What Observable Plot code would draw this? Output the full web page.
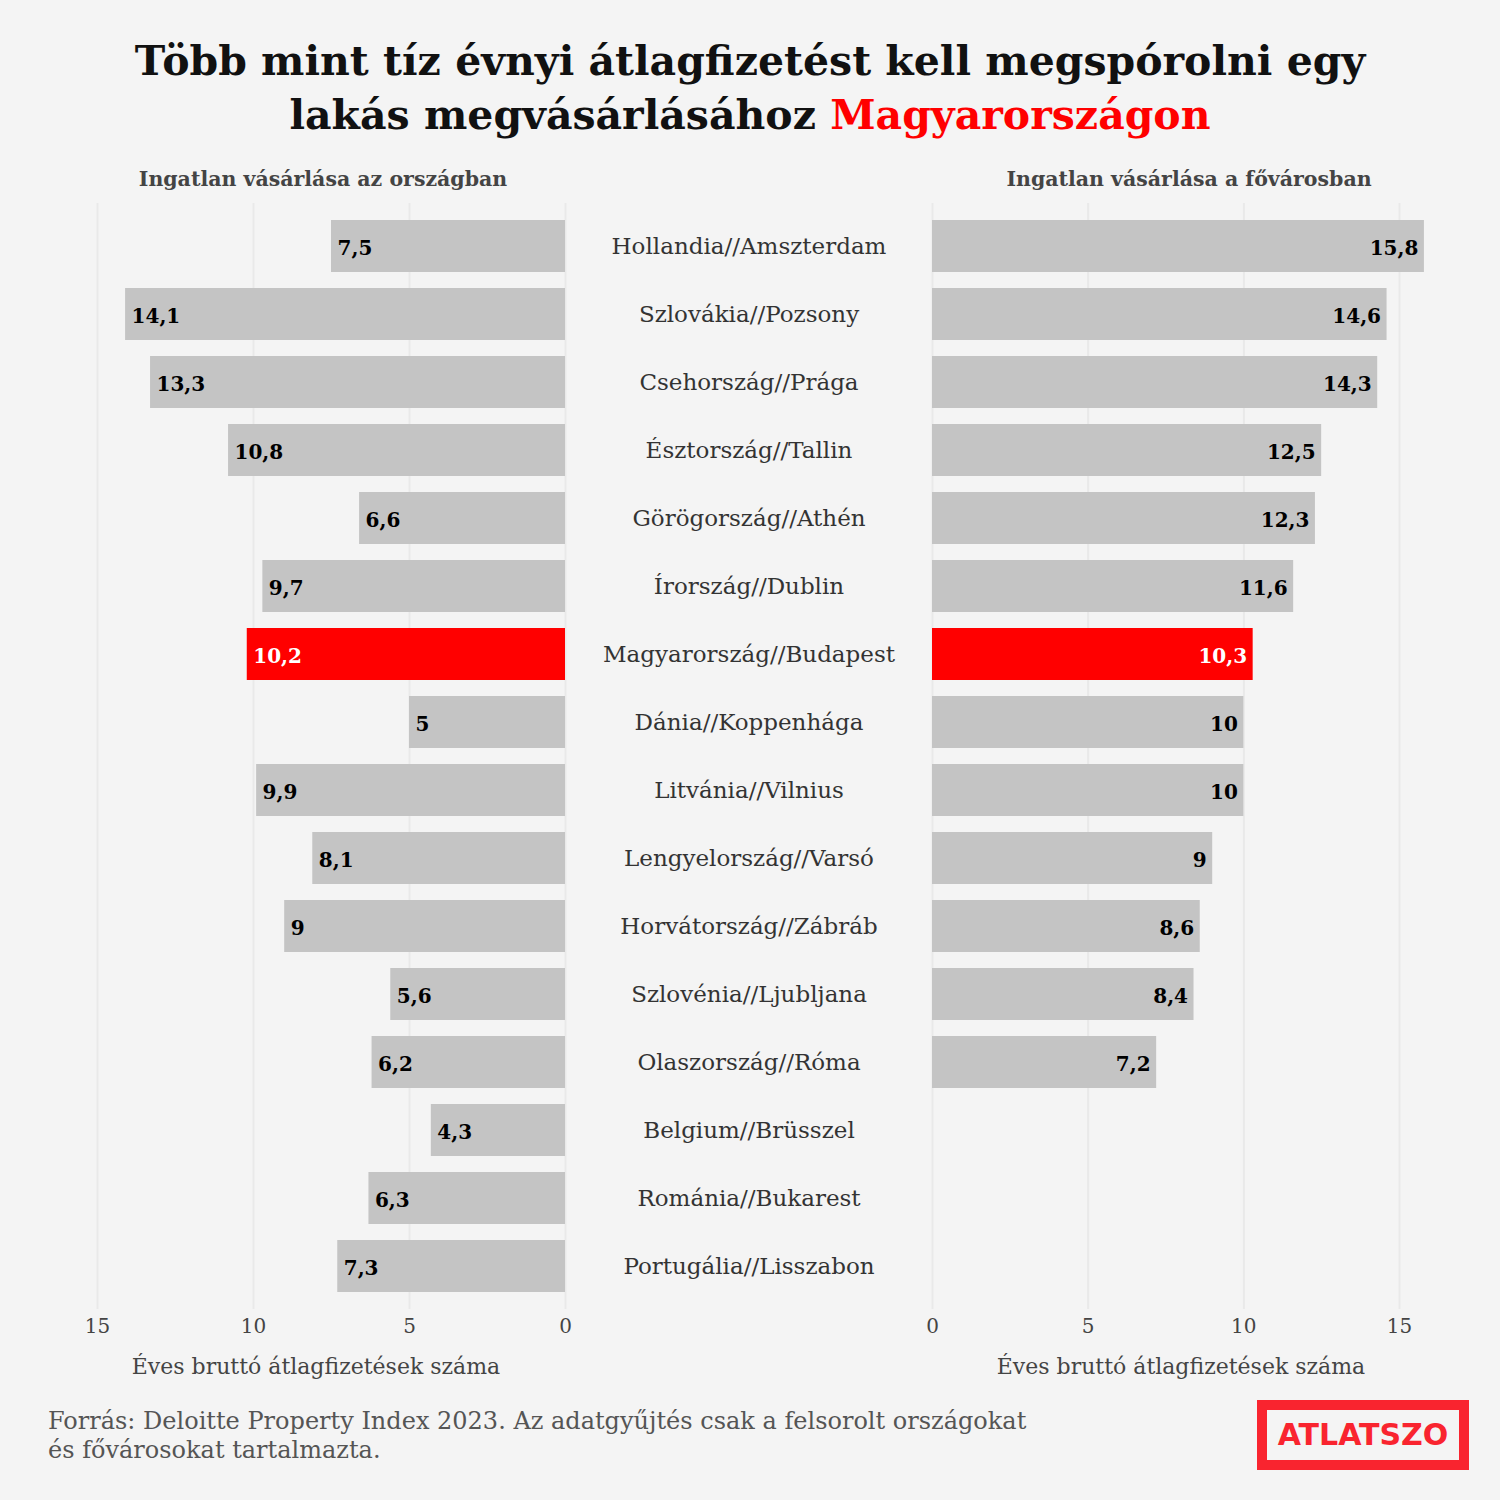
<!DOCTYPE html>
<html>
<head>
<meta charset="utf-8">
<script src="https://cdn.jsdelivr.net/npm/d3@7"></script>
<script src="https://cdn.jsdelivr.net/npm/@observablehq/plot@0.6"></script>
<style>
  html, body { margin: 0; padding: 0; background: #f4f4f4; }
  #page { position: relative; width: 1500px; height: 1500px; background: #f4f4f4; font-family: "DejaVu Serif", serif; overflow: hidden; }
  .abs { position: absolute; }
  #title { left: 0; width: 1500px; top: 34px; text-align: center; font-weight: bold; font-size: 41px; line-height: 54px; color: #111; }
  #title .hl { color: #ff0000; }
  .sub { font-weight: bold; font-size: 20.5px; color: #444; top: 167px; white-space: nowrap; transform: translateX(-50%); }
  .axlab { font-size: 22px; color: #444; top: 1354px; white-space: nowrap; transform: translateX(-50%); }
  #caption { left: 48px; top: 1407px; font-size: 24px; line-height: 29px; color: #555; white-space: nowrap; }
  #logo { left: 1257px; top: 1400px; width: 192px; height: 50px; border: 10px solid #f9242f; color: #f9242f; font-family: "DejaVu Sans", sans-serif; font-weight: bold; font-size: 30px; text-align: center; line-height: 50px; }
  .plot { position: absolute; top: 0; }
</style>
</head>
<body>
<div id="page">
  <div id="title" class="abs">Több mint tíz évnyi átlagfizetést kell megspórolni egy<br>lakás megvásárlásához <span class="hl">Magyarországon</span></div>
  <div class="abs sub" style="left:323px">Ingatlan vásárlása az országban</div>
  <div class="abs sub" style="left:1189px">Ingatlan vásárlása a fővárosban</div>
  <div class="abs axlab" style="left:316px">Éves bruttó átlagfizetések száma</div>
  <div class="abs axlab" style="left:1181px">Éves bruttó átlagfizetések száma</div>
  <div id="caption" class="abs">Forrás: Deloitte Property Index 2023. Az adatgyűjtés csak a felsorolt országokat<br>és fővárosokat tartalmazta.</div>
  <div id="logo" class="abs">ATLATSZO</div>
  <div id="left" class="plot" style="left:0px"></div>
  <div id="center" class="plot" style="left:565px"></div>
  <div id="right" class="plot" style="left:900px"></div>
</div>
<script>
const countries = [
  "Hollandia//Amszterdam",
  "Szlovákia//Pozsony",
  "Csehország//Prága",
  "Észtország//Tallin",
  "Görögország//Athén",
  "Írország//Dublin",
  "Magyarország//Budapest",
  "Dánia//Koppenhága",
  "Litvánia//Vilnius",
  "Lengyelország//Varsó",
  "Horvátország//Zábráb",
  "Szlovénia//Ljubljana",
  "Olaszország//Róma",
  "Belgium//Brüsszel",
  "Románia//Bukarest",
  "Portugália//Lisszabon"
];
const countryValues = [7.5, 14.1, 13.3, 10.8, 6.6, 9.7, 10.2, 5, 9.9, 8.1, 9, 5.6, 6.2, 4.3, 6.3, 7.3];
const capitalValues = [15.8, 14.6, 14.3, 12.5, 12.3, 11.6, 10.3, 10, 10, 9, 8.6, 8.4, 7.2, null, null, null];
const highlight = "Magyarország//Budapest";
const xTicks = [0, 5, 10, 15];

const fmt = v => String(v).replace(".", ",");
const leftData = countries.map((name, i) => ({name, v: countryValues[i], hl: name === highlight}));
const rightData = countries.map((name, i) => ({name, v: capitalValues[i], hl: name === highlight})).filter(d => d.v != null);

const H = 1400, MT = 203, MB = 91;
const common = {
  height: H, marginTop: MT, marginBottom: MB,
  style: {background: "transparent", fontFamily: "DejaVu Serif, serif", fontSize: "20px", color: "#444", overflow: "visible"},
  y: {type: "band", domain: countries, padding: 0.235, axis: null}
};
const barColor = "#c4c4c4", hlColor = "#ff0000";

function panel(data, opts) {
  return Plot.plot({
    ...common,
    width: opts.width, marginLeft: opts.ml, marginRight: opts.mr,
    x: {domain: [0, 15], reverse: opts.reverse, axis: null},
    marks: [
      Plot.gridX(xTicks, {stroke: "#e9e9e9", strokeWidth: 2, strokeOpacity: 1}),
      Plot.barX(data.filter(d => !d.hl), {x: "v", y: "name", fill: barColor}),
      Plot.barX(data.filter(d => d.hl), {x: "v", y: "name", fill: hlColor}),
      Plot.text(data, {x: "v", y: "name", text: d => fmt(d.v), textAnchor: opts.anchor, dx: opts.dx, dy: 2,
        fill: d => d.hl ? "white" : "black", fontWeight: "bold", fontSize: 20}),
      Plot.axisX(xTicks, {tickSize: 0, tickPadding: 9, fill: "#444", fontSize: 20, label: null, tickFormat: d => d})
    ]
  });
}

document.getElementById("left").append(panel(leftData, {width: 580, ml: 97, mr: 15, reverse: true, anchor: "start", dx: 6}));
document.getElementById("right").append(panel(rightData, {width: 600, ml: 32, mr: 101, reverse: false, anchor: "end", dx: -6}));

document.getElementById("center").append(Plot.plot({
  ...common,
  width: 367, marginLeft: 0, marginRight: 0,
  marks: [
    Plot.text(countries, {y: d => d, text: d => d, frameAnchor: "middle", fill: "#333", fontSize: 23})
  ]
}));
</script>
</body>
</html>
